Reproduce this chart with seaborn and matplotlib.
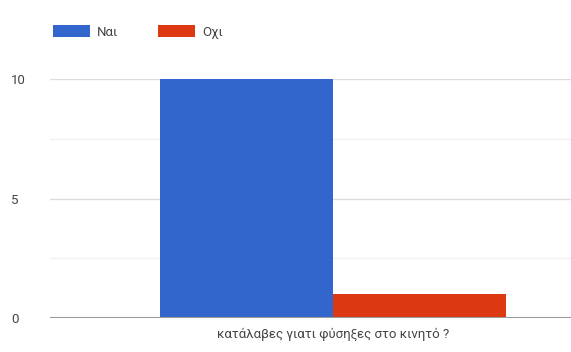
import matplotlib
matplotlib.use("Agg")
import matplotlib.pyplot as plt
import seaborn as sns
import pandas as pd
from matplotlib.patches import Patch

question = ["κατάλαβες γιατι φύσηξες στο κινητό ?"]
answers = ["Ναι", "Οχι"]
counts = [10, 1]
colors = ["#3366cc", "#dc3912"]
yticks = [0, 5, 10]

df = pd.DataFrame({"q": question * len(answers), "answer": answers, "count": counts})

sns.set_theme(style="white")
plt.rcParams["font.family"] = ["Roboto", "DejaVu Sans"]

fig = plt.figure(figsize=(5.71, 3.52), dpi=100)
ax = fig.add_axes([50 / 571, 34 / 352, 521 / 571, 239 / 352])

sns.barplot(data=df, x="q", y="count", hue="answer", palette=colors,
            width=0.8, gap=0, saturation=1, ax=ax, legend=False)
for p in ax.patches:
    p.set_edgecolor("none")

ax.set_ylim(0, 10)
ax.set_xlim(-0.654, 0.55)
ax.set_yticks(yticks)
ax.set_yticks([2.5, 7.5], minor=True)
ax.grid(axis="y", which="major", color="#dcdcdc", linewidth=1)
ax.grid(axis="y", which="minor", color="#f0f0f0", linewidth=1)
ax.set_axisbelow(True)
ax.axhline(0, color="#9a9a9a", linewidth=1.5, zorder=3)
for s in ax.spines.values():
    s.set_visible(False)
ax.tick_params(axis="both", which="both", length=0, labelsize=9.5, colors="#444444")
ax.tick_params(axis="y", pad=28)
ax.tick_params(axis="x", pad=7)
for lbl in ax.get_yticklabels():
    lbl.set_horizontalalignment("left")
ax.set_xlabel("")
ax.set_ylabel("")

handles = [Patch(facecolor=c, edgecolor="none") for c in colors]
fig.legend(handles, answers, loc="upper left", bbox_to_anchor=(0.072, 0.962),
           ncol=2, frameon=False, fontsize=9.5, handlelength=2.8, handleheight=1.0,
           handletextpad=0.55, columnspacing=3.0, labelcolor="#444444")

fig.savefig("out.png", dpi=100, facecolor="white")
